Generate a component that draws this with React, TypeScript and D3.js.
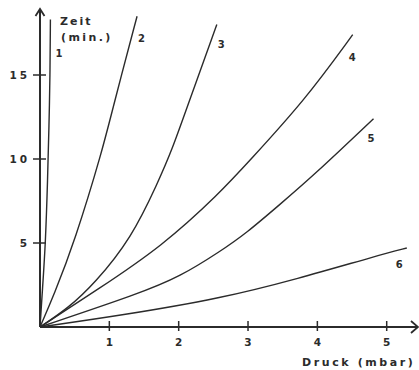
import React from 'react'
import * as d3 from 'd3'

const width = 419
const height = 370

// Druck (mbar) / Zeit (min.) readings for each curve
const curve1 = [[0, 0], [0.035, 2.2], [0.08, 5], [0.11, 8.8], [0.13, 12], [0.145, 15], [0.15, 18.3]]
const curve2 = [[0, 0], [0.2, 1.9], [0.5, 5.1], [0.9, 10.5], [1.06, 13.2], [1.4, 18.5]]
const curve3 = [[0, 0], [0.4, 1.1], [0.79, 2.6], [1.32, 5.3], [1.7, 8.6], [1.9, 10.5], [2.14, 13.3], [2.55, 18.0]]
const curve4 = [[0, 0], [0.82, 2.2], [1.76, 4.8], [2.6, 8.0], [3.0, 9.8], [3.82, 13.5], [4.51, 17.4]]
const curve5 = [[0, 0], [1.44, 2.0], [2.02, 3.0], [2.6, 4.5], [2.98, 5.6], [3.46, 7.3], [3.94, 9.0], [4.81, 12.4]]
const curve6 = [[0, 0], [1.2, 0.71], [2.6, 1.7], [3.7, 2.85], [4.9, 4.29], [5.29, 4.7]]
const curves = [curve1, curve2, curve3, curve4, curve5, curve6]
const curveNames = ['1', '2', '3', '4', '5', '6']

const xTicks = [1, 2, 3, 4, 5]
const yTicks = [5, 10, 15]

const x = d3.scaleLinear().domain([0, 5]).range([40, 386.7])
const y = d3.scaleLinear().domain([0, 15]).range([327, 75])

// label offsets from each curve's last point
const labelDx = [5, 1, 1, -4, -6, -11]
const labelDy = [37, 26, 23, 26, 23, 20]

const ink = '#2b2b2b'
const font = '"DejaVu Sans", sans-serif'

const line = d3.line()
  .x(d => x(d[0]))
  .y(d => y(d[1]))
  .curve(d3.curveBasis)

export default function App() {
  const x0 = x(0)
  const y0 = y(0)
  const xEnd = 418
  const yTop = 9
  return (
    <svg width={width} height={height} style={{ position: 'absolute', left: 0, top: 0, background: '#fff' }}>
      {curves.map((c, i) => (
        <g key={i}>
          <path d={line(c)} fill="none" stroke={ink} strokeWidth={1.4} />
          <text
            x={x(c[c.length - 1][0]) + labelDx[i]}
            y={y(c[c.length - 1][1]) + labelDy[i]}
            fontFamily={font} fontSize={10} fontWeight="bold" fill={ink}
          >{curveNames[i]}</text>
        </g>
      ))}

      {/* axes */}
      <line x1={x0} y1={y0} x2={x0} y2={yTop} stroke={ink} strokeWidth={2} />
      <polyline points={`${x0 - 4.5},${yTop + 7} ${x0},${yTop} ${x0 + 4.5},${yTop + 7}`} fill="none" stroke={ink} strokeWidth={1.8} />
      <line x1={x0} y1={y0} x2={xEnd} y2={y0} stroke={ink} strokeWidth={2} />
      <polyline points={`${xEnd - 7},${y0 - 6} ${xEnd},${y0} ${xEnd - 7},${y0 + 6}`} fill="none" stroke={ink} strokeWidth={1.8} />

      {yTicks.map(t => (
        <g key={t}>
          <line x1={x0 - 7} x2={x0 + 6} y1={y(t)} y2={y(t)} stroke={ink} strokeWidth={1.5} />
          <text x={x0 - 10} y={y(t) + 4} textAnchor="end" fontFamily={font} fontSize={10.5} fontWeight="bold" letterSpacing={3} fill={ink}>{t}</text>
        </g>
      ))}
      {xTicks.map(t => (
        <g key={t}>
          <line x1={x(t)} x2={x(t)} y1={y0 - 6} y2={y0 + 4} stroke={ink} strokeWidth={1.5} />
          <text x={x(t)} y={y0 + 19} textAnchor="middle" fontFamily={font} fontSize={10.5} fontWeight="bold" fill={ink}>{t}</text>
        </g>
      ))}

      <text x={60} y={25} fontFamily={font} fontSize={11} fontWeight="bold" letterSpacing={2} fill={ink}>Zeit</text>
      <text x={61} y={41} fontFamily={font} fontSize={11} fontWeight="bold" letterSpacing={2.4} fill={ink}>(min.)</text>
      <text x={302} y={366} fontFamily={font} fontSize={11} fontWeight="bold" letterSpacing={2.6} fill={ink}>Druck (mbar)</text>
    </svg>
  )
}
